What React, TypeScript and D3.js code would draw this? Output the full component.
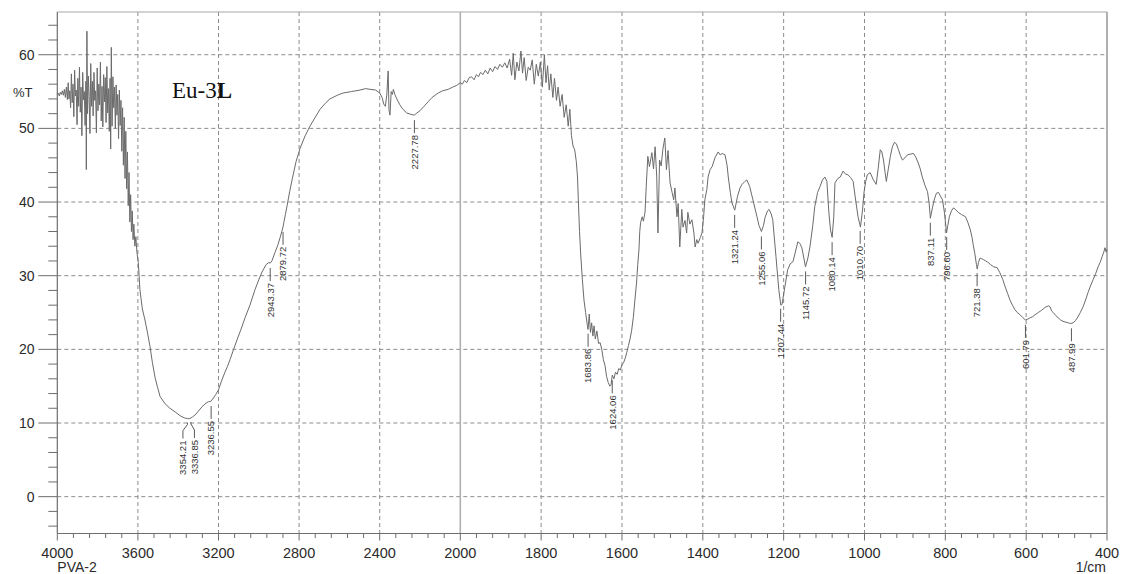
import React from 'react';
import * as d3 from 'd3';

const W = 1121;
const H = 574;

type Pt = [number, number];

// O-H stretching region with heavy water-vapour noise (wavenumber, %T)
const highNoise: Pt[] = [
  [4000, 54.6], [3995, 54.8], [3990, 54.4], [3985, 54.9], [3980, 54.6], [3975, 55.1],
  [3970, 54.5], [3965, 55.3], [3960, 54.2], [3955, 55.6], [3950, 53.9], [3946, 56.2],
  [3942, 54.0], [3938, 55.1], [3934, 52.8], [3930, 57.4], [3926, 53.5], [3922, 56.0],
  [3918, 51.6], [3914, 57.9], [3910, 54.4], [3906, 55.2], [3902, 50.5], [3898, 56.8],
  [3894, 53.0], [3890, 58.3], [3886, 52.2], [3882, 55.6], [3878, 49.0], [3874, 57.6],
  [3870, 53.9], [3866, 55.0], [3862, 50.4], [3858, 56.4], [3856, 44.4], [3853, 63.2],
  [3850, 52.0], [3846, 57.1], [3842, 54.3], [3838, 49.3], [3834, 58.8], [3830, 53.0],
  [3826, 56.4], [3822, 51.7], [3818, 57.6], [3814, 53.8], [3810, 55.1], [3806, 49.4],
  [3802, 58.2], [3798, 52.4], [3794, 56.0], [3790, 53.2], [3786, 59.0], [3782, 51.0],
  [3778, 55.7], [3774, 50.2], [3770, 57.3], [3766, 53.6], [3762, 56.9], [3758, 50.8],
  [3754, 58.4], [3750, 52.1], [3746, 55.4], [3742, 49.6], [3738, 56.8], [3735, 47.2],
  [3732, 61.0], [3728, 50.3], [3724, 57.0], [3720, 52.8], [3716, 55.6], [3712, 50.0],
  [3708, 55.9], [3704, 51.8], [3700, 54.6], [3696, 48.6], [3692, 55.2], [3688, 50.4],
  [3684, 53.8], [3680, 46.9], [3676, 52.8], [3672, 45.0], [3668, 51.5], [3664, 43.2],
  [3660, 49.6], [3656, 41.8], [3652, 46.8], [3648, 39.5], [3644, 44.0], [3640, 37.3],
  [3636, 41.0], [3632, 36.0], [3628, 38.8], [3624, 34.9], [3620, 37.0], [3615, 34.0],
  [3610, 35.3], [3605, 33.2], [3598, 31.8],
];

// broad hydrogen-bonded O-H band and C-H shoulders
const ohBand: Pt[] = [
  [3590, 28.1], [3578, 25.5], [3565, 24.0], [3552, 22.2], [3540, 20.4], [3528, 18.2],
  [3515, 16.2], [3502, 14.8], [3490, 13.6], [3465, 12.6], [3441, 12.0], [3415, 11.5],
  [3391, 11.0], [3370, 10.7], [3354, 10.6], [3342, 10.6], [3330, 10.8], [3316, 11.1],
  [3300, 11.6], [3282, 12.2], [3262, 12.7], [3250, 12.9], [3242, 12.9], [3236, 13.0],
  [3225, 13.4], [3213, 13.9], [3200, 14.5], [3185, 15.7], [3168, 16.9], [3155, 17.7],
  [3143, 18.6], [3125, 20.0], [3108, 21.3], [3090, 22.6], [3068, 24.3], [3044, 26.0],
  [3019, 28.1], [2995, 29.8], [2984, 30.5], [2964, 31.5], [2950, 31.8], [2944, 31.7],
  [2935, 32.0], [2919, 33.2], [2905, 34.2], [2894, 35.2], [2886, 36.0], [2880, 36.6],
  [2876, 37.2], [2868, 38.3], [2859, 39.6], [2847, 41.4], [2835, 43.0], [2815, 45.5],
  [2795, 47.3], [2770, 49.0], [2746, 50.3], [2720, 51.5], [2696, 52.6], [2670, 53.4],
  [2647, 54.0], [2610, 54.5], [2582, 54.8], [2540, 55.0], [2498, 55.2], [2470, 55.4],
];

// CO2 doublet and the 2227 band
const midRegion: Pt[] = [
  [2448, 55.3], [2420, 55.2], [2400, 54.8], [2388, 54.2], [2380, 53.3], [2372, 53.0],
  [2365, 54.5], [2358, 57.8], [2354, 52.5], [2349, 51.8], [2343, 55.0], [2337, 54.6],
  [2332, 55.3], [2325, 54.6], [2315, 54.0], [2300, 53.2], [2285, 52.6], [2266, 52.1],
  [2245, 51.9], [2228, 51.8], [2215, 52.1], [2200, 52.4], [2180, 53.0], [2160, 53.6],
  [2140, 54.2], [2110, 54.8], [2088, 55.1], [2060, 55.3], [2038, 55.6], [2020, 55.8],
  [2000, 56.2],
];

// 2000-1400: noisy plateau, C=O / C=C bands
const carbonylRegion: Pt[] = [
  [1995, 56.0], [1990, 56.5], [1984, 56.2], [1978, 56.9], [1972, 57.0], [1966, 56.6],
  [1960, 57.3], [1955, 57.0], [1950, 57.6], [1944, 57.3], [1938, 57.9], [1932, 57.4],
  [1926, 58.2], [1920, 57.7], [1914, 58.4], [1908, 58.0], [1902, 58.7], [1896, 58.3],
  [1890, 58.9], [1884, 58.2], [1878, 59.4], [1873, 57.2], [1869, 60.2], [1865, 56.6],
  [1860, 59.0], [1855, 57.8], [1850, 60.5], [1846, 57.5], [1842, 59.6], [1837, 56.5],
  [1832, 58.3], [1827, 57.9], [1822, 59.3], [1817, 56.0], [1812, 58.7], [1807, 57.1],
  [1802, 59.0], [1797, 55.6], [1792, 60.0], [1788, 56.2], [1784, 58.5], [1780, 55.2],
  [1776, 57.4], [1771, 54.2], [1767, 56.8], [1762, 53.8], [1758, 55.6], [1753, 53.0],
  [1748, 54.6], [1743, 51.5], [1738, 53.2], [1733, 50.3], [1729, 52.6], [1725, 49.0],
  [1721, 47.6], [1717, 47.1], [1713, 45.5], [1710, 43.4], [1708, 40.3], [1705, 36.0],
  [1702, 32.8], [1698, 29.5], [1694, 26.7], [1690, 25.0], [1686, 23.4], [1684, 22.7],
  [1681, 24.8], [1678, 22.3], [1675, 23.6], [1672, 21.8], [1669, 23.2], [1666, 21.4],
  [1662, 22.5], [1658, 20.8], [1654, 20.9], [1650, 20.0], [1646, 18.6], [1642, 17.8],
  [1638, 16.3], [1634, 15.5], [1630, 15.0], [1627, 15.2], [1624, 16.5], [1620, 16.0],
  [1616, 16.9], [1612, 16.6], [1608, 17.4], [1604, 17.2], [1600, 17.9], [1596, 18.2],
  [1592, 18.8], [1588, 19.6], [1584, 20.5], [1580, 21.4], [1576, 22.6], [1572, 24.3],
  [1568, 26.7], [1564, 29.0], [1561, 31.5], [1558, 33.5], [1556, 36.0], [1554, 37.2],
  [1550, 38.0], [1547, 37.4], [1543, 38.6], [1540, 42.1], [1536, 46.2], [1532, 44.8],
  [1526, 46.7], [1522, 44.5], [1518, 47.5], [1514, 43.4], [1511, 35.8], [1507, 45.7],
  [1503, 44.9], [1499, 47.1], [1494, 48.7], [1490, 44.4], [1486, 47.0], [1481, 42.6],
  [1476, 41.3], [1472, 40.3], [1469, 41.9], [1464, 38.0], [1461, 39.8], [1457, 33.9],
  [1452, 39.0], [1449, 36.6], [1444, 37.5], [1440, 35.8], [1437, 38.6], [1432, 37.0],
  [1427, 37.6], [1422, 35.8], [1419, 33.9], [1415, 34.9], [1412, 34.4], [1406, 35.2],
  [1402, 35.8],
];

// fingerprint region down to 400 1/cm
const fingerprint: Pt[] = [
  [1398, 38.0], [1395, 40.3], [1390, 41.7], [1387, 43.4], [1382, 44.4], [1377, 44.8],
  [1370, 46.0], [1362, 46.8], [1357, 46.4], [1352, 46.6], [1345, 46.4], [1340, 45.0],
  [1337, 43.4], [1332, 41.3], [1328, 39.9], [1321, 38.9], [1314, 40.8], [1308, 41.9],
  [1303, 42.4], [1296, 42.8], [1291, 43.0], [1284, 42.1], [1276, 40.3], [1266, 38.0],
  [1261, 36.8], [1255, 36.0], [1250, 36.8], [1246, 37.9], [1240, 38.8], [1236, 39.0],
  [1231, 38.4], [1227, 37.6], [1219, 32.6], [1212, 28.1], [1207, 26.0], [1204, 26.1],
  [1197, 28.5], [1190, 30.8], [1184, 31.6], [1177, 31.9], [1171, 33.2], [1165, 34.6],
  [1160, 34.4], [1155, 33.8], [1150, 32.4], [1146, 31.2], [1140, 32.4], [1135, 33.9],
  [1128, 36.8], [1123, 39.4], [1116, 41.3], [1110, 42.1], [1104, 43.0], [1098, 43.4],
  [1093, 42.8], [1088, 38.5], [1084, 36.2], [1080, 35.2], [1076, 38.0], [1073, 42.6],
  [1066, 43.2], [1060, 43.4], [1053, 44.2], [1047, 43.8], [1041, 43.7], [1034, 43.3],
  [1028, 42.8], [1023, 40.7], [1016, 38.0], [1010, 36.6], [1005, 38.8], [1001, 41.4],
  [997, 42.8], [993, 43.7], [986, 44.0], [978, 43.0], [971, 42.4], [966, 44.6],
  [961, 47.1], [957, 46.8], [953, 45.7], [949, 44.0], [946, 42.8], [941, 44.5],
  [936, 46.2], [931, 47.5], [926, 48.1], [921, 47.9], [916, 47.1], [911, 46.3],
  [906, 45.7], [900, 46.0], [894, 46.4], [887, 46.5], [879, 46.6], [873, 46.1],
  [867, 45.3], [862, 44.5], [857, 43.4], [850, 42.2], [844, 41.4], [840, 39.8],
  [837, 37.8], [832, 39.2], [827, 40.4], [822, 41.2], [817, 41.3], [812, 40.8],
  [807, 40.3], [802, 38.5], [797, 35.8], [794, 36.8], [790, 38.0], [785, 38.8],
  [780, 39.2], [775, 39.0], [768, 38.6], [760, 38.3], [750, 38.0], [744, 37.2],
  [738, 36.2], [734, 35.2], [731, 34.2], [727, 33.0], [723, 31.5], [721, 30.9],
  [718, 31.8], [714, 32.4], [710, 32.3], [706, 32.2], [700, 32.0], [694, 31.8],
  [688, 31.5], [680, 31.2], [672, 31.1], [665, 30.4], [658, 29.5], [652, 28.5],
  [646, 27.6], [640, 26.7], [634, 26.0], [628, 25.4], [622, 25.0], [615, 24.7],
  [608, 24.3], [602, 24.0], [596, 24.1], [590, 24.3], [585, 24.4], [578, 24.7],
  [570, 25.0], [562, 25.3], [553, 25.7], [545, 25.9], [541, 25.8], [537, 25.2],
  [533, 25.0], [527, 24.6], [521, 24.3], [515, 24.0], [509, 23.8], [502, 23.7],
  [496, 23.6], [490, 23.5], [484, 23.6], [478, 23.9], [472, 24.4], [466, 25.0],
  [459, 25.8], [453, 26.7], [447, 27.7], [441, 28.6], [434, 29.5], [428, 30.3],
  [422, 31.2], [417, 31.8], [412, 32.6], [408, 33.2], [405, 33.8], [402, 33.2],
  [400, 33.6],
];

// annotated band positions (1/cm); shift moves a text away from its neighbour
const peakWavenumbers: number[] = [
  3354.21, 3336.85, 3236.55, 2943.37, 2879.72, 2227.78, 1683.86, 1624.06, 1321.24,
  1255.06, 1207.44, 1145.72, 1080.14, 1010.7, 837.11, 796.6, 721.38, 601.79, 487.99,
];
const peakShift: number[] = [-4.5, 3.5, 0, 0, 0, 0, 0, 0, 0, 0, 0, 0, 0, 0, 0, 0, 0, 0, 0];

const xMajorTicks: number[] = [4000, 3600, 3200, 2800, 2400, 2000, 1800, 1600, 1400, 1200, 1000, 800, 600, 400];
const yMajorTicks: number[] = [0, 10, 20, 30, 40, 50, 60];

const AXIS_FONT = "'Liberation Sans', Arial, Helvetica, sans-serif";

export default function App() {
  const x = d3.scaleLinear().domain([4000, 2000, 400]).range([57.3, 460.3, 1107]);
  const y = d3.scaleLinear().domain([-5, 65.8]).range([533.5, 12]);

  const left = x(4000);
  const right = x(400);
  const top = y(65.8);
  const bottom = y(-5);

  const spectrum: Pt[] = [...highNoise, ...ohBand, ...midRegion, ...carbonylRegion, ...fingerprint]
    .slice()
    .sort((a, b) => b[0] - a[0]);
  const ascending = spectrum.slice().reverse();
  const bis = d3.bisector((d: Pt) => d[0]).left;
  const curveAt = (wn: number) => {
    const i = Math.max(1, Math.min(ascending.length - 1, bis(ascending, wn)));
    const a = ascending[i - 1];
    const b = ascending[i];
    const t = (wn - a[0]) / (b[0] - a[0]);
    return a[1] + (b[1] - a[1]) * t;
  };

  const path = d3
    .line<Pt>()
    .x((d) => x(d[0]))
    .y((d) => y(d[1]))(spectrum) as string;

  const xMinor = [...d3.range(4000, 2000, -80), ...d3.range(2000, 399, -40)];
  const yMinor = d3.range(-4, 65, 2);

  const gridColor = '#8c8c8c';

  return (
    <svg
      width={W}
      height={H}
      style={{ position: 'absolute', left: 0, top: 0, background: '#fff' }}
      xmlns="http://www.w3.org/2000/svg"
    >
      <rect x={0} y={0} width={W} height={H} fill="#fff" />

      {/* horizontal grid */}
      {yMajorTicks.map((v) => (
        <line
          key={'gy' + v}
          x1={left}
          x2={right}
          y1={y(v)}
          y2={y(v)}
          stroke={gridColor}
          strokeWidth={1}
          strokeDasharray="4,3"
        />
      ))}
      {/* vertical grid */}
      {xMajorTicks
        .filter((v) => v !== 4000 && v !== 400 && v !== 2000)
        .map((v) => (
          <line
            key={'gx' + v}
            x1={x(v)}
            x2={x(v)}
            y1={top}
            y2={bottom}
            stroke={gridColor}
            strokeWidth={1}
            strokeDasharray="4,3"
          />
        ))}
      {/* scale change at 2000 1/cm */}
      <line x1={x(2000)} x2={x(2000)} y1={top} y2={bottom} stroke="#b0b0b0" strokeWidth={1.6} />

      {/* frame */}
      <line x1={left} x2={right} y1={top} y2={top} stroke="#a8a8a8" strokeWidth={1.2} />
      <line x1={right} x2={right} y1={top} y2={bottom} stroke="#a8a8a8" strokeWidth={1.8} />
      <line x1={left} x2={left} y1={top} y2={bottom} stroke="#6e6e6e" strokeWidth={1.2} />
      <line x1={left} x2={right} y1={bottom} y2={bottom} stroke="#6e6e6e" strokeWidth={1.2} />

      {/* y ticks */}
      {yMinor.map((v) => (
        <line
          key={'ty' + v}
          x1={v % 10 === 0 ? left - 19 : left - 9}
          x2={left}
          y1={y(v)}
          y2={y(v)}
          stroke="#6e6e6e"
          strokeWidth={1}
        />
      ))}
      {yMajorTicks.map((v) => (
        <text
          key={'ly' + v}
          x={34.5}
          y={y(v)}
          dy="0.36em"
          textAnchor="end"
          fontFamily={AXIS_FONT}
          fontSize={14}
          fill="#2b2b2b"
        >
          {v}
        </text>
      ))}
      <text x={13} y={97} fontFamily={AXIS_FONT} fontSize={13} fill="#2b2b2b">
        %T
      </text>

      {/* x ticks */}
      {xMinor.map((v) => (
        <line
          key={'tx' + v}
          x1={x(v)}
          x2={x(v)}
          y1={bottom}
          y2={bottom + (xMajorTicks.includes(v) ? 7 : 4.5)}
          stroke="#6e6e6e"
          strokeWidth={1}
        />
      ))}
      {xMajorTicks.map((v) => (
        <text
          key={'lx' + v}
          x={x(v)}
          y={557.5}
          textAnchor="middle"
          fontFamily={AXIS_FONT}
          fontSize={14.5}
          fill="#2b2b2b"
        >
          {v}
        </text>
      ))}
      <text x={left} y={572} fontFamily={AXIS_FONT} fontSize={14} fill="#2b2b2b">
        PVA-2
      </text>
      <text x={right - 1} y={572} textAnchor="end" fontFamily={AXIS_FONT} fontSize={14} fill="#2b2b2b">
        1/cm
      </text>

      {/* spectrum */}
      <path d={path} fill="none" stroke="#6b6b6b" strokeWidth={1} strokeLinejoin="round" />

      {/* band annotations */}
      {peakWavenumbers.map((wn, i) => {
        const px = x(wn);
        const py = y(curveAt(wn));
        const dx = peakShift[i];
        const tx = px + dx;
        const y0 = py + 4;
        const yEnd = py + (dx !== 0 ? 20 : 18);
        const pts =
          dx !== 0
            ? `${px},${y0} ${px},${y0 + 2} ${tx},${y0 + 8} ${tx},${yEnd}`
            : `${px},${y0 + 1} ${px},${yEnd}`;
        return (
          <g key={'pk' + wn}>
            <polyline points={pts} fill="none" stroke="#5a5a5a" strokeWidth={1} />
            <text
              transform={`translate(${tx},${yEnd + 2}) rotate(-90)`}
              textAnchor="end"
              dy="0.35em"
              fontFamily={AXIS_FONT}
              fontSize={9.5}
              fill="#333"
            >
              {wn.toFixed(2)}
            </text>
          </g>
        );
      })}

      {/* sample label */}
      <text x={172} y={98} fontFamily="'Liberation Serif', 'Times New Roman', serif" fontSize={23} fill="#111">
        Eu-3<tspan fontWeight="bold">L</tspan>
      </text>
    </svg>
  );
}
